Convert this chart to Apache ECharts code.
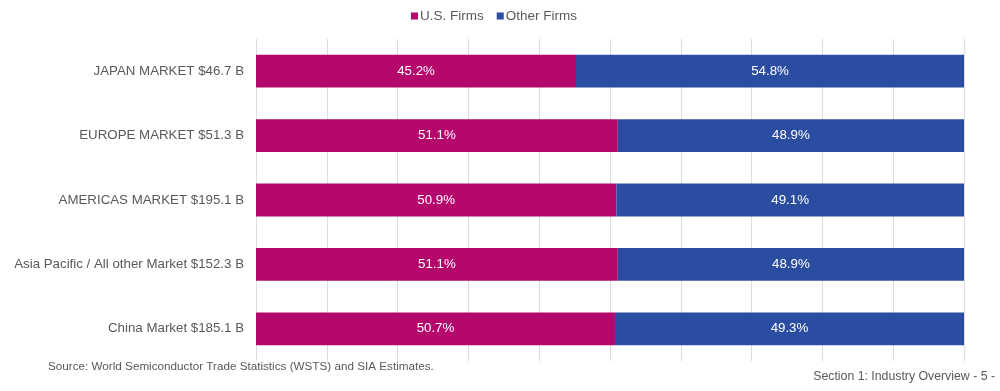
<!DOCTYPE html>
<html><head><meta charset="utf-8">
<script src="https://cdn.jsdelivr.net/npm/echarts@6/dist/echarts.min.js"></script>
<style>html,body{margin:0;padding:0;background:#fff}#c{width:1000px;height:391px}</style>
</head><body><div id="c"></div>
<script>
const categories = ["JAPAN MARKET $46.7 B","EUROPE MARKET $51.3 B","AMERICAS MARKET $195.1 B","Asia Pacific / All other Market $152.3 B","China Market $185.1 B"];
const usFirms = [45.2, 51.1, 50.9, 51.1, 50.7];
const otherFirms = [54.8, 48.9, 49.1, 48.9, 49.3];
const seriesNames = ["U.S. Firms", "Other Firms"];
const sourceText = "Source: World Semiconductor Trade Statistics (WSTS) and SIA Estimates.";
const footerText = "Section 1: Industry Overview - 5 -";

const chart = echarts.init(document.getElementById('c'), null, {renderer:'canvas'});
const font = 'Liberation Sans, Arial, sans-serif';
const lbl = {show:true, position:'inside', color:'#fff', fontSize:13.3, fontFamily:font, formatter: p => p.value.toFixed(1) + '%'};
chart.setOption({
  animation:false,
  textStyle:{fontFamily:font},
  legend:{top:4, left:406, itemWidth:7, itemHeight:7, itemGap:13, icon:'rect',
    textStyle:{color:'#595959', fontSize:13.5, fontFamily:font, padding:[0,0,0,-3]}, data:seriesNames},
  grid:{left:256, right:36, top:39, bottom:30, containLabel:false},
  xAxis:{type:'value', min:0, max:100, interval:10,
    axisLabel:{show:false}, axisLine:{show:false}, axisTick:{show:false},
    splitLine:{show:true, lineStyle:{color:'#dcdcdc', width:1}}},
  yAxis:{type:'category', data:categories, inverse:true,
    axisLine:{show:false}, axisTick:{show:false},
    axisLabel:{color:'#595959', fontSize:13.3, fontFamily:font, margin:12}},
  graphic:[
    {type:'text', left:48, top:361, style:{text:sourceText, fill:'#595959', font:'11.7px '+font}},
    {type:'text', right:5, top:371, style:{text:footerText, fill:'#595959', font:'12.3px '+font}}
  ],
  series:[
    {name:seriesNames[0], type:'bar', stack:'a', data:usFirms, barCategoryGap:'49%', itemStyle:{color:'#b5086d'}, label:lbl},
    {name:seriesNames[1], type:'bar', stack:'a', data:otherFirms, barCategoryGap:'49%', itemStyle:{color:'#2a4da2'}, label:lbl}
  ]
});
</script></body></html>
